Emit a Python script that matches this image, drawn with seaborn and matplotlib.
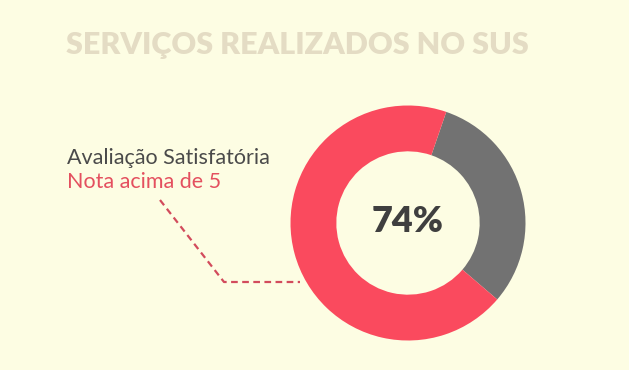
import matplotlib
matplotlib.use("Agg")
import matplotlib.pyplot as plt
import seaborn as sns

# ---- data ----
categories = ["Avaliação Satisfatória", "Outros"]
shares = [69, 31]          # visual shares of the ring (red, grey)
center_label = "74%"
title = "SERVIÇOS REALIZADOS NO SUS"
label_line1 = "Avaliação Satisfatória"
label_line2 = "Nota acima de 5"

BG = "#FDFDE3"
RED = "#FA4A5E"
GREY = "#727272"

sns.set_theme(style="white", rc={"axes.facecolor": BG, "figure.facecolor": BG})
plt.rcParams['font.family'] = ['Lato', 'DejaVu Sans']

fig = plt.figure(figsize=(6.29, 3.70), dpi=100)
ax = fig.add_axes([0, 0, 1, 1])
ax.set_xlim(0, 629)
ax.set_ylim(0, 370)
ax.set_aspect("equal")
ax.axis("off")

H = 370
cx, cy, R = 408, H - 223, 117.5
# grey first (clockwise from ~19 deg past 12 o'clock), then red
ax.pie([shares[1], shares[0]], colors=[GREY, RED], startangle=90 - 19,
       counterclock=False, center=(cx, cy), radius=R,
       wedgeprops=dict(width=R * 0.39, linewidth=0))
ax.set_xlim(0, 629)
ax.set_ylim(0, 370)

ax.text(cx, cy + 2, center_label, ha="center", va="center", fontsize=26,
        fontweight="heavy", color="#3f3f3f")

ax.text(297, H - 45, title, ha="center", va="center", fontsize=22,
        fontweight="heavy", color="#E4DCC4")

ax.text(67, H - 158, label_line1, ha="left", va="center", fontsize=15.5,
        fontweight="normal", color="#4a4a4a")
ax.text(67, H - 182, label_line2, ha="left", va="center", fontsize=15.5,
        fontweight="normal", color="#E4505F")

ax.plot([160, 224, 300], [H - 200, H - 282, H - 282], ls=(0, (3, 2)),
        color="#D24B5C", lw=1.6)

fig.savefig("out.png", dpi=100, facecolor=BG)
